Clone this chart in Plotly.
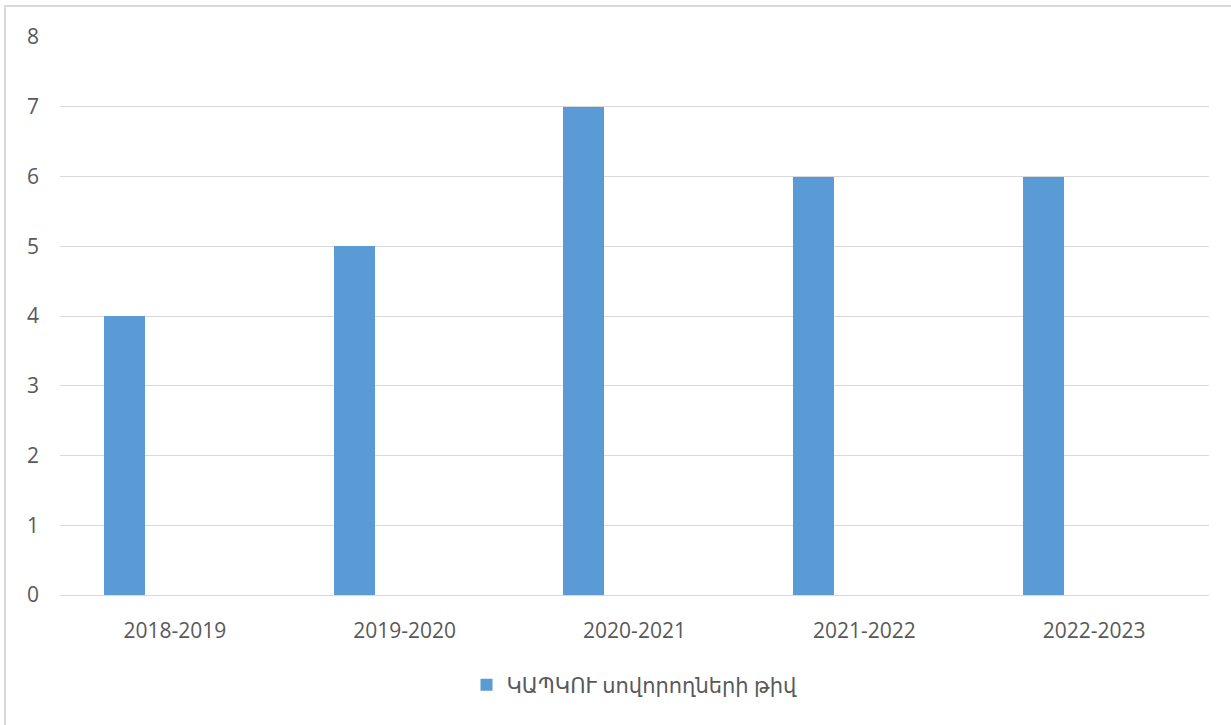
import plotly.graph_objects as go

categories = ["2018-2019", "2019-2020", "2020-2021", "2021-2022", "2022-2023"]
values = [4, 5, 7, 6, 6]
series_name = "ԿԱՊԿՈՒ սովորողների թիվ"
y_ticks = [0, 1, 2, 3, 4, 5, 6, 7, 8]

L, R, T, B = 60, 22, 37, 130
W, H = 1231, 725
pw, ph = W - L - R, H - T - B

fig = go.Figure()
fig.add_trace(go.Bar(
    x=categories, y=values, name=series_name,
    marker=dict(color="#5b9bd5", line=dict(width=0)),
    width=0.178, offset=-0.309,
    showlegend=True,
))

def px_x(p):
    return (p - L) / pw

def px_y(p):
    return (H - B - p) / ph

FS = 21
fig.update_layout(
    width=W, height=H,
    margin=dict(l=L, r=R, t=T, b=B),
    paper_bgcolor="white", plot_bgcolor="white",
    font=dict(family="Open Sans, DejaVu Sans, sans-serif", size=FS, color="#595959"),
    xaxis=dict(
        type="category", showgrid=False, zeroline=False,
        showline=False, ticks="", ticklabelstandoff=21,
        tickfont=dict(size=FS, color="#595959"),
    ),
    yaxis=dict(
        range=[0, 8], tickvals=y_ticks, showgrid=True, gridcolor="#d9d9d9",
        gridwidth=1, zeroline=True, zerolinecolor="#d9d9d9", zerolinewidth=1,
        showline=False, ticks="", ticklabelstandoff=20,
        tickfont=dict(size=FS, color="#595959"),
    ),
    legend=dict(
        orientation="h", x=0.5, xanchor="center", y=px_y(685), yanchor="middle",
        font=dict(size=FS, color="#595959"), itemsizing="constant",
        itemwidth=30,
    ),
    shapes=[dict(
        type="rect", xref="paper", yref="paper",
        x0=px_x(5), x1=px_x(1232), y0=px_y(728), y1=px_y(6),
        line=dict(color="#d9d9d9", width=2), fillcolor="rgba(0,0,0,0)",
        layer="below",
    )],
    bargap=0, showlegend=True,
)

fig.write_html(
    "out.html",
    config={"displayModeBar": False},
    post_script="document.body.style.margin='0';document.body.style.overflow='hidden';",
)
